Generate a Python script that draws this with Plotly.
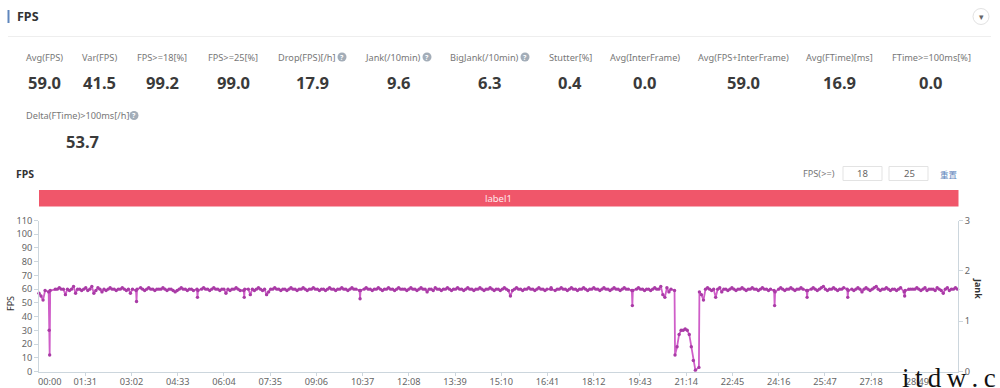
import plotly.graph_objects as go

W, H = 1000, 388
FONT = "Noto Sans"

# ---------- data ----------
seconds_per_sample = 4
fps_values = [
    57,55,52,59,58,30,12,59,60,60,61,60,60,56,60,59,60,62,57,60,
    60,59,60,61,59,60,62,57,59,61,60,58,60,59,60,61,60,60,59,60,
    60,61,60,59,60,57,60,59,51,60,61,60,59,60,61,60,60,59,60,60,
    60,61,60,59,60,60,59,58,59,60,61,60,60,59,60,60,59,60,54,59,
    60,61,60,60,59,60,61,60,60,59,60,60,57,60,59,60,60,61,60,59,
    59,54,60,60,56,60,59,60,61,60,59,60,56,58,60,60,61,60,60,59,
    60,60,59,60,61,60,60,59,60,60,61,60,59,60,60,61,60,60,59,60,
    60,59,60,61,60,60,59,60,60,61,60,60,59,60,61,60,60,59,53,59,
    60,61,60,60,59,60,60,61,60,59,60,60,61,60,60,59,60,61,60,60,
    60,59,60,61,60,60,59,60,61,60,60,58,60,60,59,61,60,60,59,60,
    60,61,60,59,60,60,61,60,60,59,60,61,60,60,59,60,60,61,60,59,
    60,60,61,60,59,60,60,59,60,61,60,59,55,59,60,61,60,60,59,60,
    60,61,60,60,59,60,61,60,60,59,60,60,61,60,59,60,60,61,60,60,
    59,60,61,60,60,59,60,60,61,60,59,60,60,61,60,60,59,60,61,60,
    60,59,60,61,60,60,59,60,61,60,60,59,48,59,60,61,60,60,59,60,
    60,59,60,61,60,60,62,56,54,61,58,60,59,12,18,27,30,30,31,30,
    27,18,8,1,3,58,56,52,60,61,60,59,60,54,60,61,58,60,60,59,
    60,61,60,59,60,60,61,60,59,60,60,61,60,60,59,60,61,60,60,59,
    60,59,48,58,60,61,60,59,60,60,61,60,59,60,60,61,60,59,54,59,
    60,61,60,59,60,61,62,60,59,60,60,61,60,59,60,60,61,60,54,59,
    60,59,60,61,60,58,60,61,60,59,60,61,62,60,59,60,60,61,60,59,
    60,60,59,60,61,58,55,59,60,60,60,60,61,60,59,60,61,59,60,60,
    60,59,61,60,59,57,60,61,59,60,60,61,60,
]
# samples that were logged off the regular 4 s grid (sample index: second)
off_grid_seconds = {4: 19, 5: 20, 6: 21, 7: 22, 312: 1251, 324: 1299,
                    47: 191, 49: 193, 77: 311, 79: 313, 100: 403, 102: 405,
                    157: 631, 159: 633, 251: 1007, 253: 1009, 291: 1167, 293: 1169,
                    361: 1447, 363: 1449, 377: 1511, 379: 1513, 397: 1591, 399: 1593,
                    425: 1703, 427: 1705}
jank_values = [0, 0]
jank_seconds = [0, 1809]
sample_seconds = [off_grid_seconds.get(i, i * seconds_per_sample) for i in range(len(fps_values))]

x_tick_seconds = [91, 182, 273, 364, 455, 546, 637, 728, 819, 910, 1001, 1092,
                  1183, 1274, 1365, 1456, 1547, 1638, 1729]
x_tick_labels = ["01:31", "03:02", "04:33", "06:04", "07:35", "09:06", "10:37",
                 "12:08", "13:39", "15:10", "16:41", "18:12", "19:43", "21:14",
                 "22:45", "24:16", "25:47", "27:18", "28:49"]

metric_labels = ["Avg(FPS)", "Var(FPS)", "FPS>=18[%]", "FPS>=25[%]", "Drop(FPS)[/h]",
                 "Jank(/10min)", "BigJank(/10min)", "Stutter[%]", "Avg(InterFrame)",
                 "Avg(FPS+InterFrame)", "Avg(FTime)[ms]", "FTime>=100ms[%]"]
metric_values = ["59.0", "41.5", "99.2", "99.0", "17.9", "9.6", "6.3", "0.4", "0.0",
                 "59.0", "16.9", "0.0"]
metric_label_x = [44, 99, 162, 233, 307, 393, 484, 570, 645, 743, 839, 931]
metric_value_x = [44, 99, 162, 233, 312, 399, 490, 570, 645, 743, 839, 931]
help_icon_x = [342, 427, 525]

# ---------- helpers (pixel coordinates of the page furniture) ----------
def px(x): return x / W
def py(y): return 1 - y / H

annots = []
def text(x, y, s, size=10, color="#777777", bold=False, anchor="center", angle=0, family=FONT):
    annots.append(dict(x=px(x), y=py(y), xref="paper", yref="paper", text=f"<b>{s}</b>" if bold else s,
                       showarrow=False, xanchor=anchor, yanchor="middle", textangle=angle,
                       font=dict(size=size, color=color, family=family)))

shapes = []
def rect(x0, y0, x1, y1, fill="rgba(0,0,0,0)", line="rgba(0,0,0,0)", width=1):
    shapes.append(dict(type="rect", xref="paper", yref="paper", x0=px(x0), x1=px(x1), y0=py(y0), y1=py(y1),
                       fillcolor=fill, line=dict(color=line, width=width), layer="below"))
def circle(cx, cy, r, fill, line="rgba(0,0,0,0)"):
    shapes.append(dict(type="circle", xref="paper", yref="paper", x0=px(cx-r), x1=px(cx+r), y0=py(cy+r), y1=py(cy-r),
                       fillcolor=fill, line=dict(color=line, width=1), layer="below"))

# header
rect(7.5, 10, 9.5, 23, fill="#5f86bd")
text(15, 16.5, "FPS", size=12.5, color="#333333", bold=True, anchor="left")
rect(8, 36, 991, 37, fill="#eeeeee")
circle(981, 16.5, 8, "#ffffff", "#e2e2e2")
text(981, 16.5, "▾", size=9, color="#666666")

# metrics
for lx, vx, lab, val in zip(metric_label_x, metric_value_x, metric_labels, metric_values):
    text(lx, 57, lab, size=9.2)
    text(vx, 82, val, size=16.5, color="#3a3a3a", bold=True)
for ix in help_icon_x:
    circle(ix, 57, 4.5, "#a3adb8")
    text(ix, 57, "?", size=7, color="#ffffff", bold=True)
text(77, 115.5, "Delta(FTime)>100ms[/h]", size=9.2)
circle(134, 115.5, 4.5, "#a3adb8")
text(134, 115.5, "?", size=7, color="#ffffff", bold=True)
text(82, 141, "53.7", size=16.5, color="#3a3a3a", bold=True)

# chart header
text(14, 174, "FPS", size=10.5, color="#333333", bold=True, anchor="left")
text(819, 174, "FPS(>=)", size=9.2)
rect(843, 166.5, 882, 180.5, fill="#ffffff", line="#e3e3e3")
rect(889, 166.5, 928, 180.5, fill="#ffffff", line="#e3e3e3")
text(862.5, 174, "18", size=9.5, color="#666666")
text(909, 174, "25", size=9.5, color="#666666")
text(949, 173.5, "重置", size=8.5, color="#5f86bd", family="Noto Sans CJK SC")

# red label bar
rect(39, 190, 958.5, 206.5, fill="#f0566a")
text(498, 198.5, "label1", size=9.5, color="#ffe9ec")

# axis titles and first tick label
text(10, 304, "FPS", size=9, color="#333333", angle=-90)
text(979, 288, "Jank", size=9, color="#333333", bold=True, angle=90)
text(49, 381, "00:00", size=9.2, color="#666666")

# watermark
text(900, 378, "i\u2009t\u2009d\u2009w\u2009.\u2009c\u2009n", size=27, color="#111111",
     anchor="left", family="Liberation Serif")

fig = go.Figure()
fig.add_trace(go.Scatter(x=sample_seconds, y=fps_values, name="FPS", mode="lines+markers",
                         line=dict(color="#cf5ec8", width=1.8),
                         marker=dict(color="#a93ba6", size=3.4), cliponaxis=False))
fig.add_trace(go.Scatter(x=jank_seconds, y=jank_values, name="Jank", yaxis="y2", mode="lines",
                         line=dict(color="rgba(0,0,0,0)", width=0)))

axis_line = "#ccd6dd"
fig.update_layout(
    width=W, height=H, margin=dict(l=0, r=0, t=0, b=0), showlegend=False,
    paper_bgcolor="#ffffff", plot_bgcolor="#ffffff",
    font=dict(family=FONT, size=9.2, color="#666666"),
    annotations=annots, shapes=shapes,
    xaxis=dict(domain=[px(39), px(958)], range=[0, 1809], showgrid=False, zeroline=False, automargin=False,
               tickmode="array", tickvals=x_tick_seconds, ticktext=x_tick_labels,
               ticks="outside", ticklen=3, ticklabelstandoff=-2, tickcolor=axis_line, showline=True,
               linecolor=axis_line, tickangle=0, tickfont=dict(size=9.2, color="#666666")),
    yaxis=dict(domain=[py(371.5), py(220.5)], range=[0, 110], dtick=10, showgrid=False, zeroline=False,
               automargin=False, ticks="outside", ticklen=4, tickcolor=axis_line, showline=True,
               linecolor=axis_line, tickfont=dict(size=9.2, color="#666666")),
    yaxis2=dict(domain=[py(371.5), py(220.5)], range=[0, 3], dtick=1, overlaying="y", side="right",
                showgrid=False, zeroline=False, anchor="x", automargin=False,
                ticks="outside", ticklen=4, tickcolor=axis_line, showline=True, linecolor=axis_line,
                tickfont=dict(size=9.2, color="#666666")),
)

fig.write_html("out.html", config=dict(displayModeBar=False),
               post_script="document.body.style.margin='0';document.documentElement.style.overflow='hidden';")
